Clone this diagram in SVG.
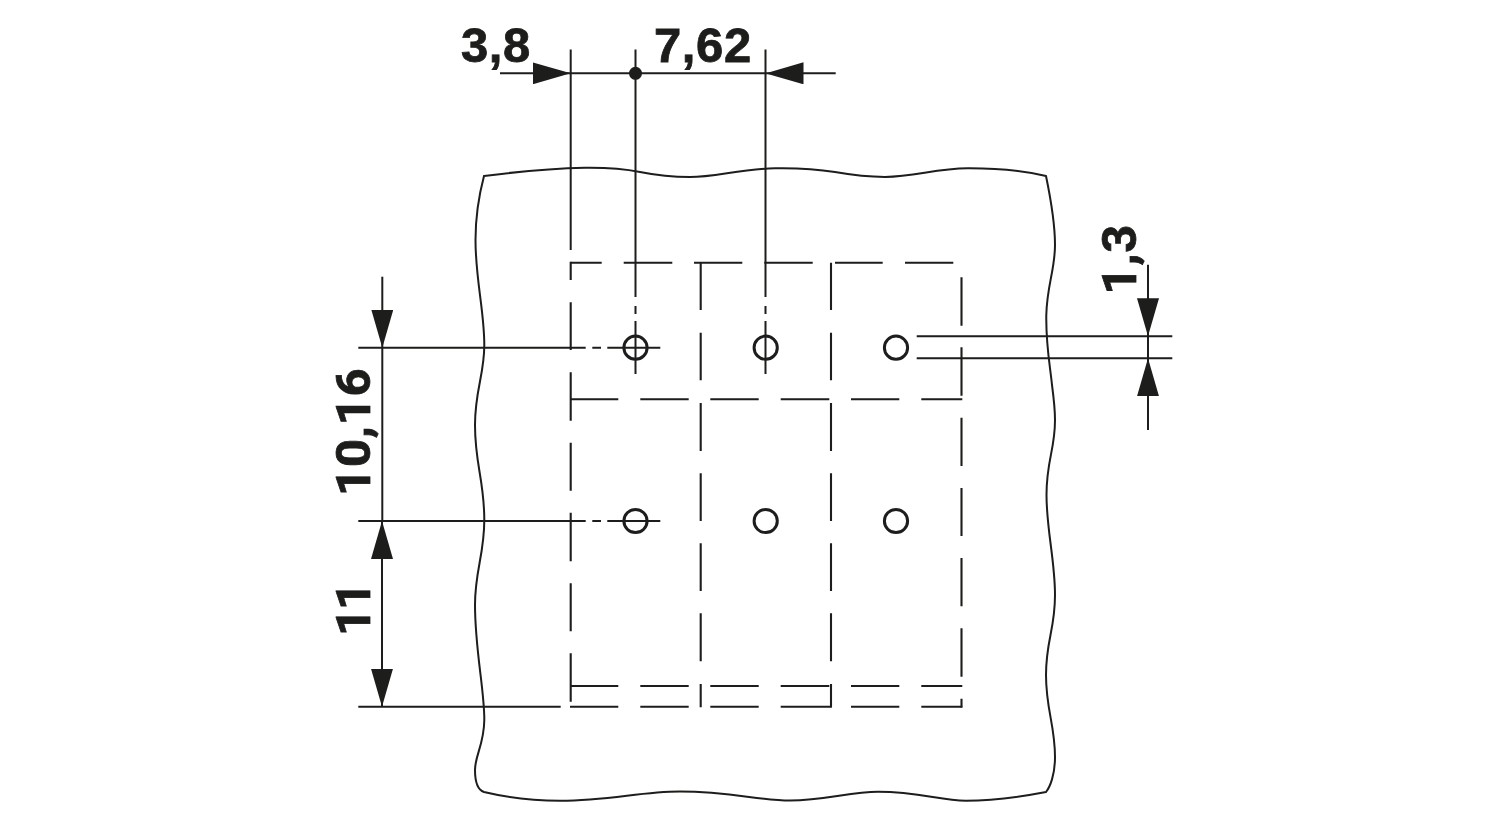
<svg xmlns="http://www.w3.org/2000/svg" width="1500" height="820" viewBox="0 0 1500 820">
<style>
.l{fill:none;stroke:#1d1d1b;stroke-width:2}
.o{fill:none;stroke:#1d1d1b;stroke-width:2;stroke-linejoin:miter}
.d{fill:none;stroke:#1d1d1b;stroke-width:2.1}
.p{fill:#fff;stroke:#1d1d1b;stroke-width:3;fill-opacity:0}
.a{fill:none;stroke:#1d1d1b;stroke-width:2;marker-end:url(#ah)}
.t{font-family:"Liberation Sans",Arial,sans-serif;font-weight:700;font-size:49px;fill:#1d1d1b;stroke:#1d1d1b;stroke-width:.8px;letter-spacing:.6px}
.r{font-family:Roboto,"Liberation Sans",sans-serif;font-weight:700;font-size:49px;fill:#1d1d1b;stroke:#1d1d1b;stroke-width:.8px;letter-spacing:.8px}
</style>
<defs>
<marker id="ah" markerUnits="userSpaceOnUse" viewBox="0 0 38 22" refX="38" refY="11" markerWidth="38" markerHeight="22" orient="auto"><polygon points="0,0 38,11 0,22" fill="#1d1d1b"/></marker>
</defs>
<rect width="1500" height="820" fill="#fff"/>
<g id="outline">
<path class="o" d="M484 176C515 172 545 168.5 585 167.8C610 167.5 625 169 640 172C655 175 670 177 690 177C715 177 740 169 775 168.2C800 167.8 820 169.5 835 172C855 175.5 868 176.9 885 176.9C915 176.9 935 168.4 968 168.3C1000 168.2 1025 171 1046 176C1052 205 1055 225 1055 245C1055 270 1047 285 1046.3 315C1045.8 345 1050 365 1052 385C1054 400 1055 410 1055 420C1055 450 1046.5 460 1046.5 495C1046.5 530 1055 560 1055 595C1055 630 1046 640 1046 675C1046 710 1055 725 1055 757C1055 775 1050 787 1046 792C1020 797 995 800.8 966 800.8C940 800.8 920 791.8 878 791.8C850 791.8 825 800.5 790 800.5C760 800.5 730 791.6 680 791.6C640 791.6 610 800.8 560 800.8C530 800.8 505 797 484 792C478 790 475 783 475 770C475 755 484 745 484.3 720C484.5 690 475 650 475 605C475 570 484.3 555 484.3 520C484.3 480 475 465 475 425C475 390 484.3 375 484.3 345C484.3 310 475.5 280 475.5 240C475.5 215 479 195 484 176Z"/>
</g>
<g id="hidden-edges">
<path class="d" d="M570.7 262.7H601.7M623.7 262.7H672.3M694 262.7H742.3M764.3 262.7H812.7M835 262.7H882.7M905 262.7H953.3"/>
<path class="d" d="M570.7 399.3H618.3M640.3 399.3H688.7M710.3 399.3H758.7M780.7 399.3H829.3M851 399.3H899.3M921.3 399.3H962.3"/>
<path class="d" d="M570.7 686H618.3M640.3 686H688.7M710.3 686H758.7M780.7 686H829.3M851 686H899.3M921.3 686H962.3"/>
<path class="d" d="M570 706.7H618.3M640.3 706.7H688.7M710.3 706.7H758.7M780.7 706.7H831.8M851 706.7H899.3M921.3 706.7H962.3"/>
<path class="d" d="M570.7 261.8V280M570.7 302.3V350M570.7 372.3V420.7M570.7 442.7V490.7M570.7 512.7V561.3M570.7 583.3V631.3M570.7 653.3V701.7"/>
<path class="d" d="M700.7 262.7V310M700.7 332.7V380.3M700.7 403V451M700.7 473.3V521M700.7 543.3V591M700.7 613.3V661.3M700.7 684V707.3"/>
<path class="d" d="M831 262.7V310M831 332.7V380.3M831 403V451M831 473.3V521M831 543.3V591M831 613.3V661.3M831 684V707.3"/>
<path class="d" d="M961.5 277.3V325.7M961.5 347.3V395.7M961.5 417.7V466M961.5 488V536M961.5 558V606.3M961.5 628.3V676.7M961.5 698.7V707.6"/>
</g>
<g id="pins">
<circle class="p" cx="635.5" cy="347.7" r="11.6"/>
<circle class="p" cx="765.7" cy="347.7" r="11.6"/>
<circle class="p" cx="896" cy="347.7" r="11.6"/>
<circle class="p" cx="635.5" cy="521" r="11.6"/>
<circle class="p" cx="765.7" cy="521" r="11.6"/>
<circle class="p" cx="896" cy="521" r="11.6"/>
</g>
<g id="connectors">
<path class="l" d="M570.7 49.5V250M635.5 49.5V297M635.5 306V314M635.5 321V374M765.5 49.5V297M765.5 306V314M765.5 321V374"/>
<path class="l" d="M570.7 73.3H765.5"/>
<line class="a" x1="500" y1="73.3" x2="570.7" y2="73.3"/>
<line class="a" x1="835.7" y1="73.3" x2="765.5" y2="73.3"/>
<circle cx="635.5" cy="73.3" r="6.5" fill="#1d1d1b"/>
<path class="l" d="M358.3 347.7H585.7M592.3 347.7H601M607.3 347.7H660.3M358.3 521H585.7M592.3 521H601M607.3 521H660.3M358.3 706.7H560.7"/>
<path class="l" d="M382.3 347.7V521"/>
<line class="a" x1="382.3" y1="276.7" x2="382.3" y2="347.7"/>
<line class="a" x1="382" y1="600" x2="382" y2="521"/>
<line class="a" x1="382" y1="600" x2="382" y2="706.7"/>
<path class="l" d="M916.7 336.2H1172.3M916.7 358.3H1172.3"/>
<line class="a" x1="1148" y1="264.7" x2="1148" y2="336.2"/>
<line class="a" x1="1148" y1="430" x2="1148" y2="358.3"/>
<path class="l" d="M1148 336.2V358.3"/>
</g>
<g id="labels">
<text class="t" x="461" y="61.5">3,8</text>
<text class="t" x="654" y="61.5">7,62</text>
<text class="r" transform="translate(370 496) rotate(-90)">10,16</text>
<text class="r" transform="translate(370 636) rotate(-90)" style="letter-spacing:-2px">11</text>
<text class="r" transform="translate(1135.7 294.5) rotate(-90)">1,3</text>
</g>
</svg>
